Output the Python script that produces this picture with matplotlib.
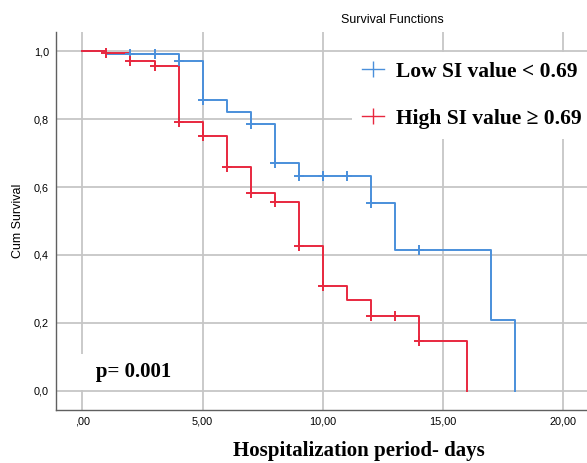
import matplotlib
matplotlib.use("Agg")
import matplotlib.pyplot as plt
from matplotlib.lines import Line2D

# ---- data ----
low_times = [0, 1, 4, 5, 6, 7, 8, 9, 12, 13, 17, 18]
low_surv = [1.0, 0.991, 0.971, 0.857, 0.821, 0.785, 0.672, 0.631, 0.553, 0.415, 0.208, 0.0]
low_censor = [2, 3, 4, 5, 7, 8, 9, 10, 11, 12, 14]

high_times = [0, 1, 2, 3, 4, 5, 6, 7, 8, 9, 10, 11, 12, 14, 16]
high_surv = [1.0, 0.993, 0.971, 0.955, 0.792, 0.751, 0.660, 0.583, 0.557, 0.426, 0.310, 0.267, 0.221, 0.147, 0.0]
high_censor = [1, 2, 3, 4, 5, 6, 7, 8, 9, 10, 12, 13, 14]

xticks = [0, 5, 10, 15, 20]
xticklabels = [",00", "5,00", "10,00", "15,00", "20,00"]
yticks = [0.0, 0.2, 0.4, 0.6, 0.8, 1.0]
yticklabels = ["0,0", "0,2", "0,4", "0,6", "0,8", "1,0"]

labels = ["Low SI value < 0.69", "High SI value \u2265 0.69"]
p_text = "   p= 0.001"

BLUE = "#4a8fdb"
RED = "#e8283f"


def surv_at(times, surv, t):
    s = surv[0]
    for ti, si in zip(times, surv):
        if ti <= t:
            s = si
    return s


fig = plt.figure(figsize=(5.87, 4.63), dpi=100)
ax = fig.add_axes([56 / 587, 1 - 410 / 463, 1 - 56 / 587, (410 - 32) / 463])

ax.set_xlim(-1.1, 21.0)
ax.set_ylim(-0.056, 1.056)

for t in xticks:
    ax.axvline(t, color="#c6c6c6", lw=1.3, zorder=0)
for y in yticks:
    ax.axhline(y, color="#c6c6c6", lw=1.3, zorder=0)

for times, surv, cens, col in [(low_times, low_surv, low_censor, BLUE),
                               (high_times, high_surv, high_censor, RED)]:
    ax.step(times, surv, where="post", color=col, lw=1.4, zorder=3)
    cy = [surv_at(times, surv, t) for t in cens]
    ax.plot(cens, cy, linestyle="none", marker="+", markersize=6.5,
            markeredgewidth=1.4, color=col, zorder=4)

ax.set_xticks(xticks)
ax.set_xticklabels(xticklabels, fontsize=7.8, fontfamily="Liberation Sans")
ax.set_yticks(yticks)
ax.set_yticklabels(yticklabels, fontsize=7.8, fontfamily="Liberation Sans")
ax.tick_params(length=0)
ax.tick_params(axis="y", pad=5)
ax.tick_params(axis="x", pad=5)

for s in ["top", "right"]:
    ax.spines[s].set_visible(False)
for s in ["left", "bottom"]:
    ax.spines[s].set_color("#606060")
    ax.spines[s].set_linewidth(1.0)

handles = [Line2D([], [], color=BLUE, lw=1.0, marker="|", markersize=12, markeredgewidth=1.0),
           Line2D([], [], color=RED, lw=1.0, marker="|", markersize=12, markeredgewidth=1.0)]
leg = ax.legend(handles, labels, loc="upper left", bbox_to_anchor=(0.537, 0.975),
                frameon=True, fancybox=False, edgecolor="none", facecolor="white",
                framealpha=1.0, handlelength=1.05, handletextpad=0.55, labelspacing=1.25,
                borderpad=0.45, prop={"family": "Liberation Serif", "weight": "bold", "size": 15.5})
leg.set_zorder(5)

ax.text(-0.12, 0.056, p_text, transform=ax.transData, fontsize=15,
        fontfamily="Liberation Serif", fontweight="bold", va="center", ha="left",
        bbox=dict(facecolor="white", edgecolor="none", pad=6), zorder=5)

fig.text(392 / 587, 1 - 20 / 463, "Survival Functions", fontsize=9,
         fontfamily="Liberation Sans", ha="center", va="center")
fig.text(18 / 587, 1 - 221 / 463, "Cum Survival", fontsize=9,
         fontfamily="Liberation Sans", rotation=90, ha="center", va="center")
fig.text(359 / 587, 1 - 451 / 463, "Hospitalization period- days", fontsize=15,
         fontfamily="Liberation Serif", fontweight="bold", ha="center", va="center")

fig.savefig("out.png", dpi=100)
